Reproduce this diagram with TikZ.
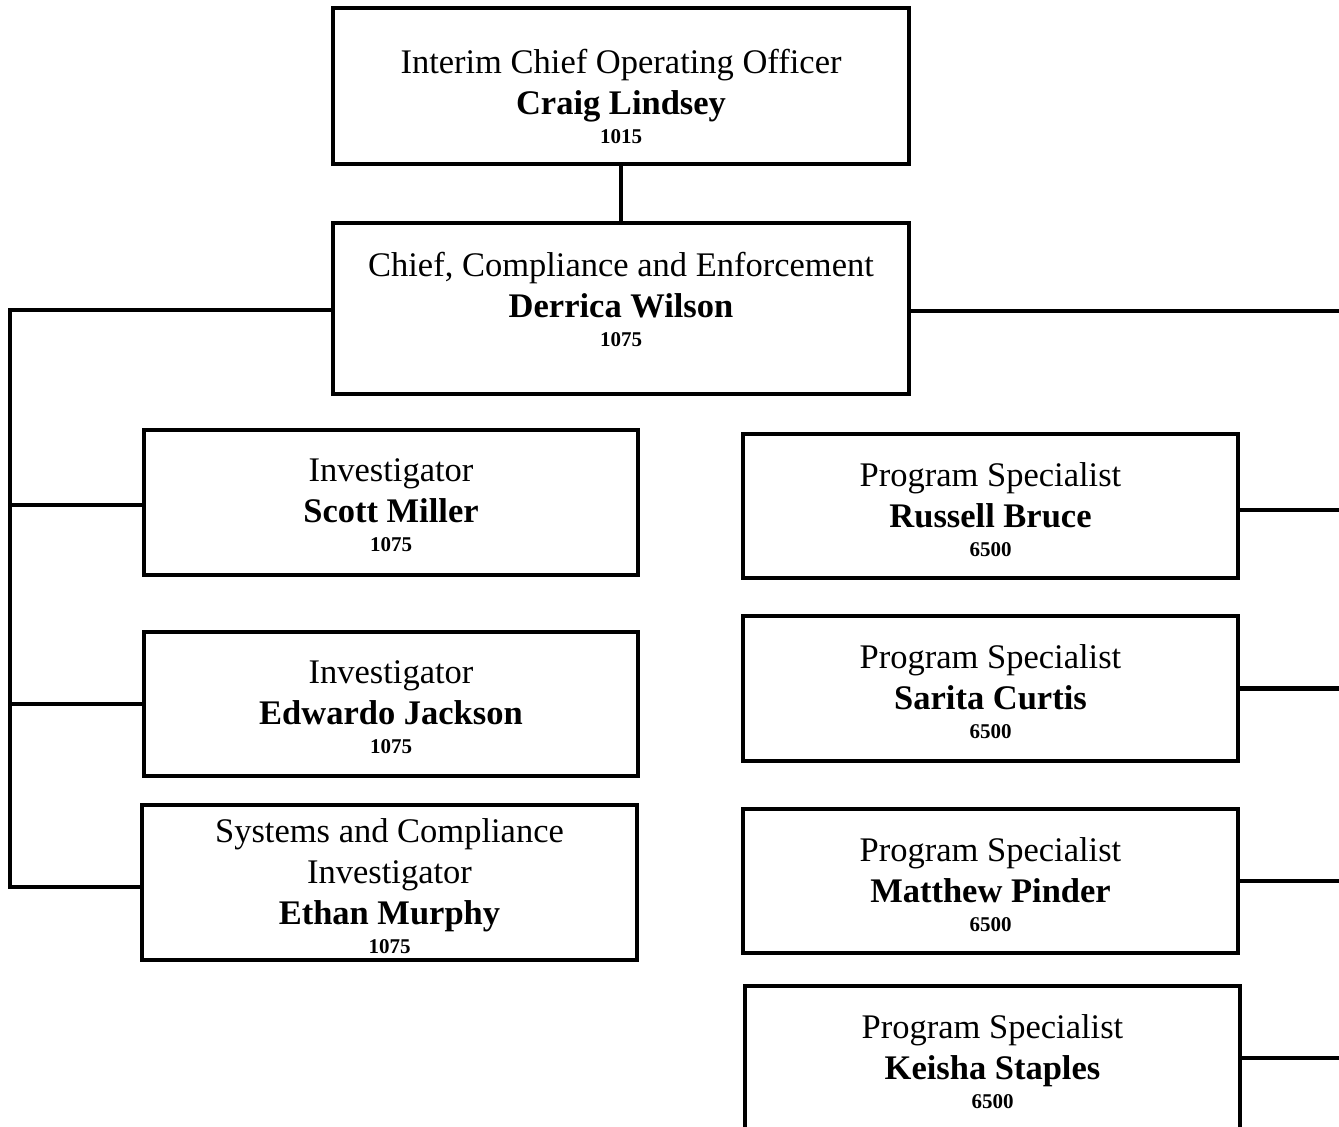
\documentclass[tikz,border=0pt]{standalone}
\usepackage{fontspec}
\setmainfont{Liberation Serif}
\usetikzlibrary{positioning}

\newcommand{\extn}[1]{{\fontsize{21}{25}\selectfont\bfseries #1}}

\begin{document}
\begin{tikzpicture}[x=100pt, y=-100pt,
  every node/.style={font=\fontsize{34.5}{41}\selectfont},
  post/.style={rectangle, draw=black, line width=4.8pt, outer sep=0pt,
               inner sep=0pt, minimum width=495pt, minimum height=145pt},
  txt/.style={align=center, inner sep=0pt},
  link/.style={draw=black, line width=4.8pt},
]
\useasboundingbox (0,0) rectangle (13.39,11.27);

% ── Direction ────────────────────────────────────────────────────────
\node[post, minimum width=576pt, minimum height=156pt] (craig) at (6.21, 0.86) {};
\node[txt, below=41.5pt of craig.north] (craigt)
  {Interim Chief Operating Officer\\\textbf{Craig Lindsey}\\[-12pt]\extn{1015}};

\node[post, minimum width=576pt, minimum height=171pt] (derrica) at (6.21, 3.085) {};
\node[txt, below=29.5pt of derrica.north] (derricat)
  {Chief, Compliance and Enforcement\\\textbf{Derrica Wilson}\\[-12pt]\extn{1075}};

% ── Enquêteurs (gauche) ──────────────────────────────────────────────
\node[post, minimum width=494pt] (scott) at (3.91, 5.025) {};
\node[txt, below=28.5pt of scott.north] (scottt)
  {Investigator\\\textbf{Scott Miller}\\[-12pt]\extn{1075}};

\node[post, minimum width=494pt, minimum height=144pt] (edwardo) at (3.91, 7.04) {};
\node[txt, below=28.5pt of edwardo.north] (edwardot)
  {Investigator\\\textbf{Edwardo Jackson}\\[-12pt]\extn{1075}};

\node[post, minimum height=155pt] (ethan) at (3.895, 8.825) {};
\node[txt, below=13.5pt of ethan.north] (ethant)
  {Systems and Compliance\\Investigator\\\textbf{Ethan Murphy}\\[-12pt]\extn{1075}};

% ── Spécialistes de programme (droite) ───────────────────────────────
\node[post, minimum height=144pt] (russell) at (9.905, 5.06) {};
\node[txt, below=28.5pt of russell.north] (russellt)
  {Program Specialist\\\textbf{Russell Bruce}\\[-12pt]\extn{6500}};

\node[post] (sarita) at (9.905, 6.885) {};
\node[txt, below=28.5pt of sarita.north] (saritat)
  {Program Specialist\\\textbf{Sarita Curtis}\\[-12pt]\extn{6500}};

\node[post, minimum height=144pt] (matthew) at (9.905, 8.81) {};
\node[txt, below=28.5pt of matthew.north] (matthewt)
  {Program Specialist\\\textbf{Matthew Pinder}\\[-12pt]\extn{6500}};

\node[post, minimum height=150pt] (keisha) at (9.925, 10.61) {};
\node[txt, below=28.5pt of keisha.north] (keishat)
  {Program Specialist\\\textbf{Keisha Staples}\\[-12pt]\extn{6500}};

% ── Liaisons ─────────────────────────────────────────────────────────
\coordinate (lbus) at (0.10, 0);
\coordinate (rbus) at (13.45, 0);

\draw[link] (craig.south) -- (derrica.north);

\draw[link] ([yshift=-1.5pt]derrica.west) -- ([yshift=-1.5pt]derrica.west -| lbus)
  -- ([yshift=-4.5pt]ethan.west -| lbus) -- ([yshift=-4.5pt]ethan.west);
\draw[link] ([yshift=-2.5pt]scott.west -| lbus) -- ([yshift=-2.5pt]scott.west);
\draw[link] (edwardo.west -| lbus) -- (edwardo.west);

\draw[link] ([yshift=-2.5pt]derrica.east) -- ([yshift=-2.5pt]derrica.east -| rbus);
\draw[link] ([yshift=-4pt]russell.east) -- ([yshift=-4pt]russell.east -| rbus);
\draw[link] (sarita.east) -- (sarita.east -| rbus);
\draw[link] (matthew.east) -- (matthew.east -| rbus);
\draw[link] ([yshift=3pt]keisha.east) -- ([yshift=3pt]keisha.east -| rbus);

\end{tikzpicture}
\end{document}
